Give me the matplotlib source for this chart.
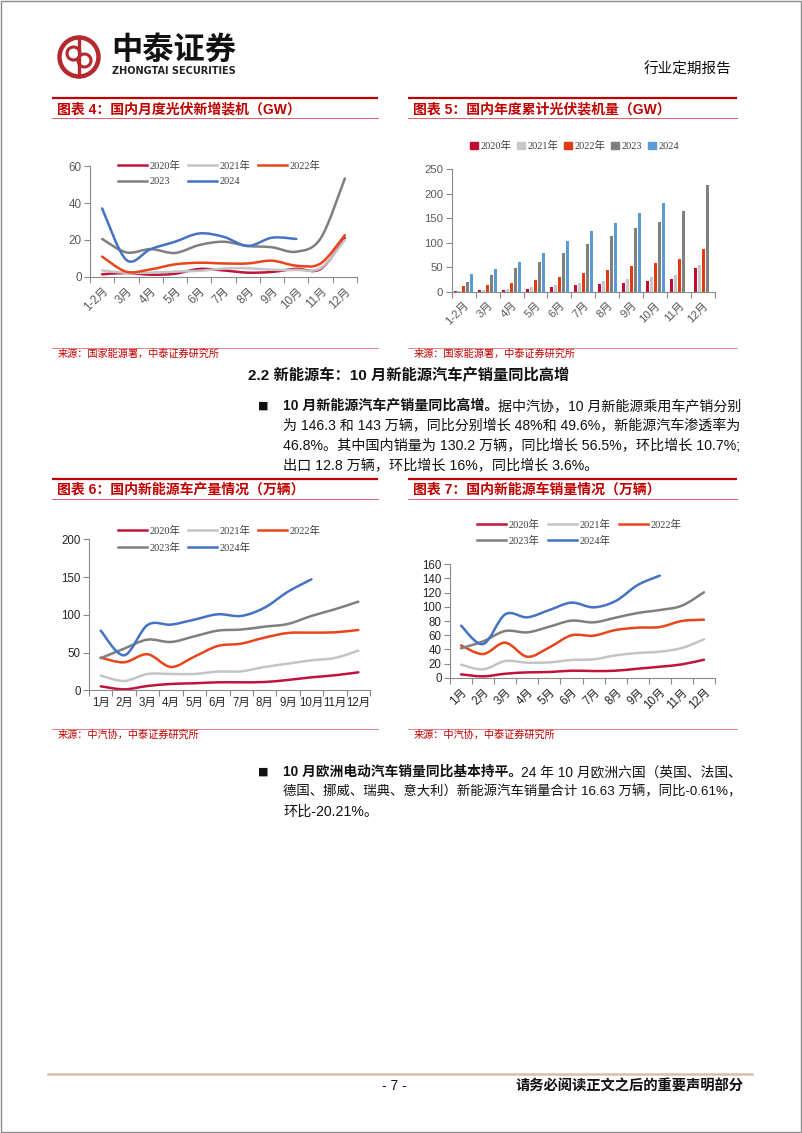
import numpy as np
import matplotlib
matplotlib.use('Agg')
import matplotlib.pyplot as plt
from matplotlib.path import Path
from matplotlib.patches import PathPatch, Circle, Rectangle
from matplotlib.lines import Line2D

W, H = 802, 1133
SANS = ['Liberation Sans', 'Noto Sans CJK SC']
SERIF = ['Liberation Serif', 'Noto Sans CJK SC']
plt.rcParams['font.family'] = SANS

# ---------------- data ----------------
pv_cats = ['1-2月', '3月', '4月', '5月', '6月', '7月', '8月', '9月', '10月', '11月', '12月']
pv_years = ['2020年', '2021年', '2022年', '2023', '2024']
pv_2020 = [1.3, 2.0, 1.1, 1.6, 4.2, 3.4, 2.2, 2.6, 4.3, 4.2, 21.0]
pv_2021 = [3.4, 2.1, 2.2, 2.8, 3.2, 4.4, 4.6, 3.8, 3.7, 4.7, 20.0]
pv_2022 = [10.9, 2.7, 4.0, 6.7, 7.6, 7.2, 7.2, 8.7, 6.0, 7.2, 22.6]
pv_2023 = [20.5, 13.2, 15.0, 12.9, 17.2, 19.0, 16.7, 16.0, 13.6, 20.8, 53.4]
pv_2024 = [37.1, 9.1, 15.0, 19.0, 23.5, 21.7, 16.7, 21.2, 20.5]

cum_2020 = [1.0, 2.7, 4.0, 6.0, 10.0, 13.0, 15.0, 18.0, 22.0, 26.0, 48.2]
cum_2021 = [1.5, 4.0, 5.5, 9.0, 13.0, 17.5, 22.0, 25.6, 29.6, 34.0, 54.9]
cum_2022 = [10.9, 13.2, 16.9, 23.7, 30.9, 37.7, 44.5, 52.6, 58.2, 65.7, 87.4]
cum_2023 = [20.4, 33.7, 48.3, 61.2, 78.4, 97.2, 113.2, 128.9, 142.6, 163.9, 216.9]
cum_2024 = [36.7, 45.7, 60.1, 79.2, 102.5, 123.5, 140.1, 160.9, 181.3]

ev_cats = ['1月', '2月', '3月', '4月', '5月', '6月', '7月', '8月', '9月', '10月', '11月', '12月']
ev_years = ['2020年', '2021年', '2022年', '2023年', '2024年']
prod_2020 = [5.3, 1.3, 5.7, 8.4, 9.3, 10.6, 10.6, 11.0, 13.7, 17.2, 19.9, 23.8]
prod_2021 = [19.4, 12.4, 21.6, 21.7, 21.6, 24.8, 25.1, 30.9, 35.3, 39.7, 42.8, 52.5]
prod_2022 = [43.3, 37.1, 47.7, 30.9, 44.6, 58.7, 61.8, 69.8, 75.9, 76.4, 76.8, 79.9]
prod_2023 = [42.5, 55.2, 67.1, 64.0, 71.5, 79.0, 80.5, 84.3, 87.9, 98.5, 107.3, 117.4]
prod_2024 = [79.0, 46.4, 86.5, 87.0, 93.6, 100.7, 98.5, 109.5, 130.7, 147.0]

sale_2020 = [4.7, 1.9, 5.6, 7.5, 8.0, 9.9, 9.4, 9.9, 12.7, 15.5, 18.8, 25.4]
sale_2021 = [18.4, 11.8, 23.5, 21.2, 21.6, 25.0, 25.9, 31.5, 34.8, 36.7, 41.9, 54.1]
sale_2022 = [45.6, 33.4, 49.4, 29.6, 42.8, 59.8, 59.3, 67.3, 70.6, 71.5, 80.0, 81.9]
sale_2023 = [41.4, 51.3, 65.9, 64.0, 72.0, 80.5, 78.1, 84.7, 91.3, 95.5, 101.6, 120.5]
sale_2024 = [73.4, 47.5, 89.4, 85.2, 95.5, 105.9, 99.3, 108.2, 130.8, 144.0]

line_colors = ['#C0143C', '#C4C4C4', '#E8451A', '#7F7F7F', '#4472C4']
bar_colors = ['#C00A32', '#C8C8C8', '#E03C14', '#808080', '#5B9BD5']
RED = '#C00000'
INK = '#111111'

fig = plt.figure(figsize=(W / 100, H / 100), dpi=100)

# page layer in pixel coordinates
page = fig.add_axes([0, 0, 1, 1])
page.set_xlim(0, W)
page.set_ylim(H, 0)
page.axis('off')
page.add_patch(Rectangle((0.5, 0.5), W - 1.5, H - 1.5, fill=False, ec='#8c8c8c', lw=1))


def box(x0, y0, x1, y1):
    return [x0 / W, 1 - y1 / H, (x1 - x0) / W, (y1 - y0) / H]


def smooth(xs, ys):
    # bezier through the points, like excel smoothed lines
    p = np.column_stack([xs, ys]).astype(float)
    verts = [p[0]]
    codes = [Path.MOVETO]
    n = len(p)
    for i in range(n - 1):
        p0 = p[i - 1] if i > 0 else p[i]
        p1, p2 = p[i], p[i + 1]
        p3 = p[i + 2] if i + 2 < n else p[i + 1]
        verts += [p1 + (p2 - p0) / 6, p2 - (p3 - p1) / 6, p2]
        codes += [Path.CURVE4] * 3
    return Path(verts, codes)


def style(ax, cats, ymax, ystep, rot, tcolor, fs):
    n = len(cats)
    ax.set_xlim(-0.5, n - 0.5)
    ax.set_ylim(0, ymax)
    ax.patch.set_alpha(0)
    for s in ['top', 'right']:
        ax.spines[s].set_visible(False)
    for s in ['left', 'bottom']:
        ax.spines[s].set_color('#8a8a8a')
        ax.spines[s].set_linewidth(0.8)
    ax.set_yticks(np.arange(0, ymax + 1, ystep))
    ax.set_xticks(range(n))
    ax.set_xticks(np.arange(-0.5, n), minor=True)
    ax.tick_params(axis='x', which='minor', length=4, color='#8a8a8a', width=0.8)
    ax.tick_params(axis='y', length=4, color='#8a8a8a', width=0.8, labelsize=fs,
                   labelcolor=tcolor, pad=2)
    if rot:
        ax.set_xticklabels(cats, rotation=45, ha='right', va='top', rotation_mode='anchor')
        ax.tick_params(axis='x', which='major', length=0, labelsize=fs, labelcolor=tcolor, pad=6)
    else:
        ax.set_xticklabels(cats)
        ax.tick_params(axis='x', which='major', length=0, labelsize=fs, labelcolor=tcolor, pad=5)


def line_chart(ax, series, colors):
    for ys, c in zip(series, colors):
        ax.add_patch(PathPatch(smooth(np.arange(len(ys)), ys), fill=False, ec=c, lw=1.8,
                               capstyle='round', joinstyle='round'))


def line_legend(ax, labels, x, y, spacing):
    hs = [Line2D([], [], color=c, lw=1.8) for c in line_colors]
    order = [0, 3, 1, 4, 2]
    ax.legend([hs[i] for i in order], [labels[i] for i in order], ncol=3, loc='upper left',
              bbox_to_anchor=(x / W, 1 - y / H), bbox_transform=fig.transFigure,
              frameon=False, prop={'family': SERIF, 'size': 7.5}, labelcolor='#404040',
              handlelength=2.8, handletextpad=0.25, columnspacing=spacing,
              labelspacing=0.62, borderpad=0, borderaxespad=0)


def frame(x0, x1, y_top, y_thin, y_src, title, src):
    page.plot([x0, x1], [y_top, y_top], color='#C00000', lw=1.6, solid_capstyle='butt')
    page.plot([x0, x1], [y_thin, y_thin], color='#D84848', lw=0.6)
    page.plot([x0, x1], [y_src, y_src], color='#E07070', lw=0.6)
    page.text(x0 + 5, (y_top + y_thin) / 2 + 1, title, color=RED, fontsize=10, weight='bold',
              ha='left', va='center')
    page.text(x0 + 6, y_src + 6, src, color=RED, fontsize=7.3, ha='left', va='center')


# ---------------- header ----------------
page.add_patch(Circle((79, 57), 19.5, fill=False, ec='#B5282E', lw=3.2))
page.plot([79, 79], [38, 76], color='#B5282E', lw=2.4)
page.add_patch(Circle((73.5, 53.5), 6.5, fill=False, ec='#B5282E', lw=2.2))
page.add_patch(Circle((84.5, 60.5), 6.5, fill=False, ec='#B5282E', lw=2.2))
page.text(111, 50, '中泰证券', fontsize=22.5, weight='bold', color=INK, va='center', ha='left',
          family=['Noto Sans CJK SC'])
page.text(112, 71.5, 'ZHONGTAI SECURITIES', fontsize=7.0, weight='bold', color='#222222',
          va='center', ha='left', family=['DejaVu Sans'])
page.text(731, 70, '行业定期报告', fontsize=10.5, color=INK, ha='right', va='center')

# ---------------- chart 4 ----------------
frame(52, 378, 98, 118, 347.5, '图表 4：国内月度光伏新增装机（GW）', '来源：国家能源署，中泰证券研究所')
ax4 = fig.add_axes(box(90, 166.3, 357, 276.7))
style(ax4, pv_cats, 60, 20, True, '#595959', 8.4)
line_chart(ax4, [pv_2020, pv_2021, pv_2022, pv_2023, pv_2024], line_colors)
line_legend(ax4, pv_years, 118, 160.5, 0.7)

# ---------------- chart 5 ----------------
frame(408, 737, 98, 118, 347.5, '图表 5：国内年度累计光伏装机量（GW）', '来源：国家能源署，中泰证券研究所')
ax5 = fig.add_axes(box(451.7, 169, 715, 291.7))
style(ax5, pv_cats, 250, 50, True, '#595959', 8.2)
for k, vals in enumerate([cum_2020, cum_2021, cum_2022, cum_2023, cum_2024]):
    xs = np.arange(len(vals)) + (k - 2) * 0.167
    ax5.bar(xs, vals, width=0.125, color=bar_colors[k], linewidth=0)
sq = [Rectangle((0, 0), 1, 1, color=c) for c in bar_colors]
ax5.legend(sq, pv_years, ncol=5, loc='upper left', bbox_to_anchor=(470 / W, 1 - 141 / H),
           bbox_transform=fig.transFigure, frameon=False, prop={'family': SERIF, 'size': 7.5},
           labelcolor='#404040', handlelength=0.75, handleheight=0.75, handletextpad=0.25,
           columnspacing=0.55, borderpad=0, borderaxespad=0)

# ---------------- chart 6 ----------------
frame(52, 378, 479, 499, 729, '图表 6：国内新能源车产量情况（万辆）', '来源：中汽协，中泰证券研究所')
ax6 = fig.add_axes(box(89, 539.3, 370, 690.3))
style(ax6, ev_cats, 200, 50, False, '#262626', 8.3)
line_chart(ax6, [prod_2020, prod_2021, prod_2022, prod_2023, prod_2024], line_colors)
line_legend(ax6, ev_years, 118, 526, 0.7)

# ---------------- chart 7 ----------------
frame(408, 737, 479, 499, 729, '图表 7：国内新能源车销量情况（万辆）', '来源：中汽协，中泰证券研究所')
ax7 = fig.add_axes(box(450, 564.3, 715, 677.7))
style(ax7, ev_cats, 160, 20, True, '#262626', 8.3)
line_chart(ax7, [sale_2020, sale_2021, sale_2022, sale_2023, sale_2024], line_colors)
line_legend(ax7, ev_years, 477, 519.5, 0.8)

# ---------------- body text ----------------
TX0, TX1, FS = 283, 740, 10.2
inv = page.transData.inverted()


def put_line(parts, y, justify):
    # parts: list of (string, weight); optionally stretched to the right margin
    ts = [page.text(TX0, y, s, fontsize=FS, weight=w, color=INK, ha='left', va='center')
          for s, w in parts]
    fig.canvas.draw()
    widths = [inv.transform((t.get_window_extent().x1, 0))[0] -
              inv.transform((t.get_window_extent().x0, 0))[0] for t in ts]
    scale = (TX1 - TX0) / sum(widths) if justify else 1.0
    x = TX0
    for t, wd in zip(ts, widths):
        t.set_fontsize(FS * scale)
        t.set_x(x)
        x += wd * scale


page.text(248, 376, '2.2 新能源车：10 月新能源汽车产销量同比高增', fontsize=11, weight='bold',
          color=INK, ha='left', va='center')

page.text(258, 406, '■', fontsize=8, color=INK, ha='left', va='center', family=['DejaVu Sans'])
put_line([('10 月新能源汽车产销量同比高增。', 'bold'), ('据中汽协，10 月新能源乘用车产销分别', 'normal')],
         406, True)
put_line([('为 146.3 和 143 万辆，同比分别增长 48%和 49.6%，新能源汽车渗透率为', 'normal')], 426, True)
put_line([('46.8%。其中国内销量为 130.2 万辆，同比增长 56.5%，环比增长 10.7%;', 'normal')], 446, True)
put_line([('出口 12.8 万辆，环比增长 16%，同比增长 3.6%。', 'normal')], 466, False)

page.text(258, 772, '■', fontsize=8, color=INK, ha='left', va='center', family=['DejaVu Sans'])
put_line([('10 月欧洲电动汽车销量同比基本持平。', 'bold'), ('24 年 10 月欧洲六国（英国、法国、', 'normal')],
         772, True)
put_line([('德国、挪威、瑞典、意大利）新能源汽车销量合计 16.63 万辆，同比-0.61%，', 'normal')], 792, True)
put_line([('环比-20.21%。', 'normal')], 812, False)

# ---------------- footer ----------------
page.plot([48, 752], [1074, 1074], color='#D9BFA6', lw=1.8)
page.text(394, 1086, '- 7 -', fontsize=10, color=INK, ha='center', va='center')
page.text(744, 1086, '请务必阅读正文之后的重要声明部分', fontsize=10.3, weight='bold',
          color=INK, ha='right', va='center')

fig.savefig('out.png', dpi=100)
